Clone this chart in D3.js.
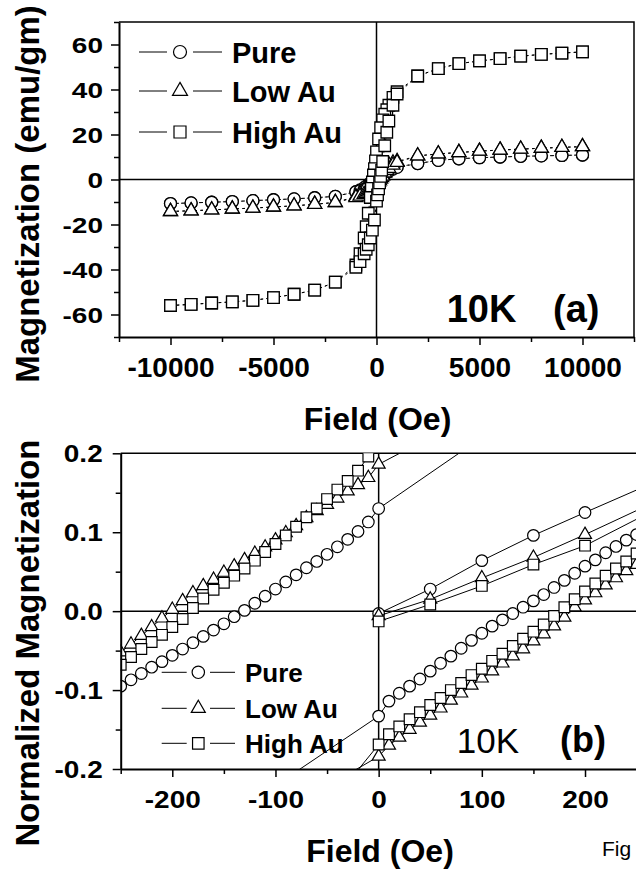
<!DOCTYPE html>
<html>
<head>
<meta charset="utf-8">
<script src="https://cdn.jsdelivr.net/npm/d3@7"></script>
<style>
  body { margin: 0; background: #fff; }
  svg { display: block; }
</style>
</head>
<body>
<script>
window.document.addEventListener('DOMContentLoaded', init, false);

var FONT = "'Liberation Sans', Arial, Helvetica, sans-serif";
var seriesNames = ['Pure', 'Low Au', 'High Au'];

// ---- panel (a): M (emu/gm) vs H (Oe) ----
var fieldHighNeg = [-10000, -9000, -8000, -7000, -6000, -5000, -4000, -3000, -2000];
var fieldHighPos = [2000, 3000, 4000, 5000, 6000, 7000, 8000, 9000, 10000];
var fieldLowDown = [1000, 800, 600, 500, 400, 300, 200, 100, 0, -50, -100, -150, -200, -250, -300, -400, -500, -600, -800, -1000];
var fieldLowUp = [-1000, -800, -600, -500, -400, -300, -200, -100, 0, 50, 100, 150, 200, 250, 300, 400, 500, 600, 800, 1000];

var pureHighNeg = [-10.7, -10.4, -10.1, -9.8, -9.4, -9.0, -8.6, -8.1, -7.5];
var pureHighPos = [7.1, 8.5, 9.2, 9.7, 10.0, 10.3, 10.5, 10.7, 10.9];
var pureLowDown = [5.6, 5.1, 4.5, 4.1, 3.6, 3.0, 2.4, 1.9, 1.46, 0.95, 0.31, -0.2, -0.63, -1.06, -1.5, -2.3, -3.0, -3.6, -4.6, -5.4];
var pureLowUp = [-5.5, -5.0, -4.4, -4.0, -3.5, -3.0, -2.5, -2.0, -1.49, -0.85, -0.31, 0.15, 0.64, 1.09, 1.5, 2.3, 3.0, 3.6, 4.6, 5.4];

var lowAuHighNeg = [-14.2, -13.9, -13.5, -13.1, -12.7, -12.2, -11.7, -11.0, -10.2];
var lowAuHighPos = [10.5, 11.4, 12.0, 12.6, 13.1, 13.5, 13.9, 14.3, 14.6];
var lowAuLowDown = [8.0, 7.4, 6.6, 6.1, 5.5, 4.8, 4.1, 3.5, 2.7, 1.96, 1.3, 0.71, 0.03, -0.75, -1.5, -2.9, -4.0, -4.9, -6.4, -7.6];
var lowAuLowUp = [-8.0, -7.4, -6.6, -6.1, -5.5, -4.8, -4.1, -3.5, -2.67, -1.91, -1.23, -0.55, 0.2, 0.86, 1.5, 2.9, 4.0, 4.9, 6.4, 7.6];

var highAuHighNeg = [-56.0, -55.5, -54.9, -54.4, -53.7, -52.5, -51.0, -49.2, -45.6];
var highAuHighPos = [46.0, 49.3, 51.5, 52.7, 53.7, 54.8, 55.6, 56.2, 56.7];
var highAuLowDown = [39, 36.5, 33, 31, 29, 26.5, 23, 18, 12.3, 8.3, 4.8, 2.0, -1.1, -3.9, -8, -15, -21, -26, -33, -38];
var highAuLowUp = [-39, -36.5, -33, -31, -29, -26, -22.5, -18, -9.6, -6.8, -4.2, -1.5, 1.4, 4.2, 8, 15, 21, 26, 33, 38];

// ---- panel (b): normalized M vs H (Oe) ----
var fieldDown = [100, 0, -10, -20, -30, -40, -50, -60, -70, -80, -90, -100, -110, -120, -130, -140, -150, -160, -170, -180, -190, -200, -210, -220, -230, -240, -250];
var fieldUp = [-100, 0, 10, 20, 30, 40, 50, 60, 70, 80, 90, 100, 110, 120, 130, 140, 150, 160, 170, 180, 190, 200, 210, 220, 230, 240, 250];
var fieldVirgin = [0, 50, 100, 150, 200, 300];

var pureDown = [0.220, 0.130, 0.113, 0.101, 0.091, 0.0815, 0.072, 0.063, 0.055, 0.046, 0.037, 0.028, 0.019, 0.010, 0.001, -0.007, -0.016, -0.024, -0.032, -0.040, -0.048, -0.056, -0.064, -0.071, -0.079, -0.087, -0.095];
var pureUp = [-0.221, -0.133, -0.114, -0.104, -0.095, -0.086, -0.076, -0.066, -0.057, -0.047, -0.037, -0.028, -0.019, -0.011, -0.003, 0.005, 0.013, 0.021, 0.030, 0.039, 0.048, 0.057, 0.065, 0.074, 0.082, 0.090, 0.097];
var pureVirgin = [-0.003, 0.028, 0.064, 0.096, 0.125, 0.182];

var lowAuDown = [0.255, 0.186, 0.169, 0.160, 0.152, 0.143, 0.135, 0.127, 0.118, 0.108, 0.099, 0.090, 0.081, 0.073, 0.065, 0.057, 0.049, 0.040, 0.032, 0.023, 0.013, 0.002, -0.009, -0.020, -0.031, -0.042, -0.052];
var lowAuUp = [-0.26, -0.184, -0.170, -0.160, -0.150, -0.141, -0.132, -0.123, -0.113, -0.104, -0.094, -0.085, -0.076, -0.066, -0.057, -0.048, -0.038, -0.029, -0.019, -0.008, 0.005, 0.014, 0.023, 0.033, 0.042, 0.051, 0.059];
var lowAuVirgin = [-0.006, 0.015, 0.042, 0.068, 0.097, 0.158];

var highAuDown = [0.28, 0.215, 0.196, 0.178, 0.165, 0.154, 0.142, 0.130, 0.119, 0.107, 0.096, 0.085, 0.075, 0.064, 0.054, 0.045, 0.036, 0.027, 0.016, 0.004, -0.010, -0.020, -0.030, -0.039, -0.048, -0.058, -0.068];
var highAuUp = [-0.33, -0.169, -0.156, -0.146, -0.137, -0.128, -0.119, -0.110, -0.100, -0.091, -0.081, -0.073, -0.063, -0.054, -0.044, -0.035, -0.026, -0.017, -0.006, 0.005, 0.015, 0.025, 0.035, 0.045, 0.054, 0.063, 0.073];
var highAuVirgin = [-0.013, 0.0085, 0.032, 0.059, 0.083, 0.150];

// ticks
var ticksAX = [-10000, -5000, 0, 5000, 10000];
var minorAX = [-12500, -7500, -2500, 2500, 7500, 12500];
var ticksAY = [-60, -40, -20, 0, 20, 40, 60];
var minorAY = [-70, -50, -30, -10, 10, 30, 50, 70];
var ticksBX = [-200, -100, 0, 100, 200];
var minorBX = [-250, -150, -50, 50, 150, 250];
var ticksBY = [-0.2, -0.1, 0, 0.1, 0.2];
var minorBY = [-0.15, -0.05, 0.05, 0.15];

var shapes = [d3.symbolCircle, d3.symbolTriangle, d3.symbolSquare];

function init() {
    var svg = d3.select('body').append('svg')
        .attr('width', 636)
        .attr('height', 871);

    var xA = d3.scaleLinear().domain([-12500, 12500]).range([119, 634]);
    var yA = d3.scaleLinear().domain([-70, 70]).range([337, 22]);
    var xB = d3.scaleLinear().domain([-250, 250]).range([120.7, 636.6]);
    var yB = d3.scaleLinear().domain([-0.2, 0.2]).range([769, 453.3]);

    // ---------- panel (a) ----------
    drawFrame(svg, xA, yA, 634);
    var gA = svg.append('g');
    var sizesA = [Math.PI * 6 * 6, 14 * 14 * Math.sqrt(3) / 4, 11.5 * 11.5];
    var loopsA = [
        [pureHighNeg, pureHighPos, pureLowDown, pureLowUp],
        [lowAuHighNeg, lowAuHighPos, lowAuLowDown, lowAuLowUp],
        [highAuHighNeg, highAuHighPos, highAuLowDown, highAuLowUp]
    ];
    loopsA.forEach((s, i) => {
        var st = { shape: shapes[i], size: sizesA[i], lineWidth: 1, dash: '2.5,3.5', markWidth: 1.3 };
        var fDown = fieldHighPos.slice().reverse().concat(fieldLowDown, fieldHighNeg.slice().reverse());
        var mDown = s[1].slice().reverse().concat(s[2], s[0].slice().reverse());
        var fUp = fieldHighNeg.concat(fieldLowUp, fieldHighPos);
        var mUp = s[0].concat(s[3], s[1]);
        drawSeries(gA, xA, yA, fDown, mDown, st);
        drawSeries(gA, xA, yA, fUp, mUp, st);
    });

    drawXAxis(svg, xA, yA, ticksAX, minorAX, (d) => String(d), { offset: 40, squash: 1, size: 28 });
    drawYAxis(svg, xA, yA, ticksAY, minorAY, (d) => String(d), { pad: 8, squash: 0.8, size: 28 });

    drawLegend(svg, {
        x: [139, 167, 180, 193, 222, 232], rows: [52, 91, 132], base: 11,
        sizes: [Math.PI * 6.5 * 6.5, 15 * 15 * Math.sqrt(3) / 4, 12 * 12], font: 29
    });

    addText(svg, 'Magnetization (emu/gm)', 39, 194, 33, 'bold', 'middle', -90);
    addText(svg, 'Field (Oe)', 377.5, 430, 32, 'bold', 'middle');
    addText(svg, '10K', 446.7, 321.7, 38, 'bold', 'start');
    addText(svg, '(a)', 553, 321.7, 38, 'bold', 'start');

    // ---------- panel (b) ----------
    svg.append('clipPath').attr('id', 'clipB')
        .append('rect')
        .attr('x', xB.range()[0]).attr('y', yB.range()[1])
        .attr('width', xB.range()[1] - xB.range()[0])
        .attr('height', yB.range()[0] - yB.range()[1]);

    drawFrame(svg, xB, yB, 640);
    var gB = svg.append('g').attr('clip-path', 'url(#clipB)');
    var sizesB = [Math.PI * 5.8 * 5.8, 13 * 13 * Math.sqrt(3) / 4, 10.7 * 10.7];
    var loopsB = [
        [pureVirgin, pureDown, pureUp],
        [lowAuVirgin, lowAuDown, lowAuUp],
        [highAuVirgin, highAuDown, highAuUp]
    ];
    loopsB.forEach((s, i) => {
        var st = { shape: shapes[i], size: sizesB[i], lineWidth: 1, dash: null, markWidth: 1.2 };
        drawSeries(gB, xB, yB, fieldVirgin, s[0], st);
        drawSeries(gB, xB, yB, fieldDown, s[1], st);
        drawSeries(gB, xB, yB, fieldUp, s[2], st);
    });

    drawXAxis(svg, xB, yB, ticksBX, minorBX, (d) => String(d), { offset: 39, squash: 0.83, size: 28 });
    drawYAxis(svg, xB, yB, ticksBY, minorBY, (d) => d.toFixed(1), { pad: 10, squash: 0.83, size: 28 });

    drawLegend(svg, {
        x: [161.7, 186.7, 198.3, 210, 235, 245], rows: [672.3, 708.3, 743.3], base: 9.7,
        sizes: [Math.PI * 6.2 * 6.2, 14 * 14 * Math.sqrt(3) / 4, 11.5 * 11.5], font: 26
    });

    addText(svg, 'Normalized Magnetization', 39, 643, 33, 'bold', 'middle', -90);
    addText(svg, 'Field (Oe)', 380, 862, 32, 'bold', 'middle');
    addText(svg, '10K', 456.7, 753, 35, 'normal', 'start');
    addText(svg, '(b)', 560, 752, 36, 'bold', 'start');
    addText(svg, 'Fig', 602, 856, 21, 'normal', 'start');
}

function drawFrame(svg, x, y, right) {
    var l = x.range()[0], b = y.range()[0], t = y.range()[1];
    var g = svg.append('g').attr('fill', 'none').attr('stroke', '#000');
    g.append('path').attr('d', `M${l},${t}H${right}V${b}`).attr('stroke-width', 1.5);
    g.append('line')
        .attr('x1', l).attr('x2', right)
        .attr('y1', y(0)).attr('y2', y(0))
        .attr('stroke-width', 1.5);
    g.append('line')
        .attr('x1', x(0)).attr('x2', x(0))
        .attr('y1', t).attr('y2', b)
        .attr('stroke-width', 1.5);
}

function drawSeries(g, x, y, field, mag, st) {
    var pts = field.map((f, i) => [f, mag[i]]);
    g.append('path').datum(pts)
        .attr('d', d3.line().x((d) => x(d[0])).y((d) => y(d[1])))
        .attr('fill', 'none')
        .attr('stroke', '#000')
        .attr('stroke-width', st.lineWidth)
        .attr('stroke-dasharray', st.dash);
    g.selectAll(null).data(pts).enter()
        .append('path')
        .attr('transform', (d) => `translate(${x(d[0])},${y(d[1])})`)
        .attr('d', d3.symbol(st.shape, st.size)())
        .attr('fill', '#fff')
        .attr('stroke', '#000')
        .attr('stroke-width', st.markWidth);
}

function drawXAxis(svg, x, y, major, minor, fmt, lab) {
    var b = y.range()[0];
    svg.append('g')
        .attr('transform', `translate(0,${b})`)
        .call(d3.axisBottom(x).tickValues(minor).tickSize(5).tickFormat(''))
        .call((g) => g.select('.domain').remove())
        .selectAll('line').attr('stroke-width', 1.5);
    var ax = svg.append('g')
        .attr('transform', `translate(0,${b})`)
        .call(d3.axisBottom(x).tickValues(major).tickSize(8).tickSizeOuter(0).tickFormat(fmt));
    ax.select('.domain').attr('stroke-width', 2);
    ax.selectAll('.tick line').attr('stroke-width', 1.5);
    ax.selectAll('.tick text')
        .attr('y', lab.offset / lab.squash)
        .attr('dy', 0)
        .attr('transform', `scale(1,${lab.squash})`)
        .attr('font-family', FONT)
        .attr('font-size', lab.size)
        .attr('font-weight', 'bold')
        .attr('fill', '#000');
}

function drawYAxis(svg, x, y, major, minor, fmt, lab) {
    var l = x.range()[0];
    svg.append('g')
        .attr('transform', `translate(${l},0)`)
        .call(d3.axisLeft(y).tickValues(minor).tickSize(5).tickFormat(''))
        .call((g) => g.select('.domain').remove())
        .selectAll('line').attr('stroke-width', 1.5);
    var ax = svg.append('g')
        .attr('transform', `translate(${l},0)`)
        .call(d3.axisLeft(y).tickValues(major).tickSize(8).tickSizeOuter(0).tickPadding(lab.pad).tickFormat(fmt));
    ax.select('.domain').attr('stroke-width', 2);
    ax.selectAll('.tick line').attr('stroke-width', 1.5);
    ax.selectAll('.tick text')
        .attr('dy', '0.36em')
        .attr('transform', `scale(1,${lab.squash})`)
        .attr('font-family', FONT)
        .attr('font-size', lab.size)
        .attr('font-weight', 'bold')
        .attr('fill', '#000');
}

function drawLegend(svg, o) {
    var g = svg.append('g');
    seriesNames.forEach((name, i) => {
        var yy = o.rows[i];
        g.append('line').attr('x1', o.x[0]).attr('x2', o.x[1]).attr('y1', yy).attr('y2', yy)
            .attr('stroke', '#000').attr('stroke-width', 1);
        g.append('line').attr('x1', o.x[3]).attr('x2', o.x[4]).attr('y1', yy).attr('y2', yy)
            .attr('stroke', '#000').attr('stroke-width', 1);
        g.append('path')
            .attr('transform', `translate(${o.x[2]},${yy})`)
            .attr('d', d3.symbol(shapes[i], o.sizes[i])())
            .attr('fill', '#fff').attr('stroke', '#000').attr('stroke-width', 1.2);
        g.append('text')
            .attr('x', o.x[5]).attr('y', yy + o.base)
            .attr('font-family', FONT).attr('font-size', o.font).attr('font-weight', 'bold')
            .text(name);
    });
}

function addText(svg, str, x, y, size, weight, anchor, rot) {
    svg.append('text')
        .attr('transform', `translate(${x},${y})` + (rot ? ` rotate(${rot})` : ''))
        .attr('text-anchor', anchor)
        .attr('font-family', FONT)
        .attr('font-size', size)
        .attr('font-weight', weight)
        .attr('fill', '#000')
        .text(str);
}
</script>
</body>
</html>
